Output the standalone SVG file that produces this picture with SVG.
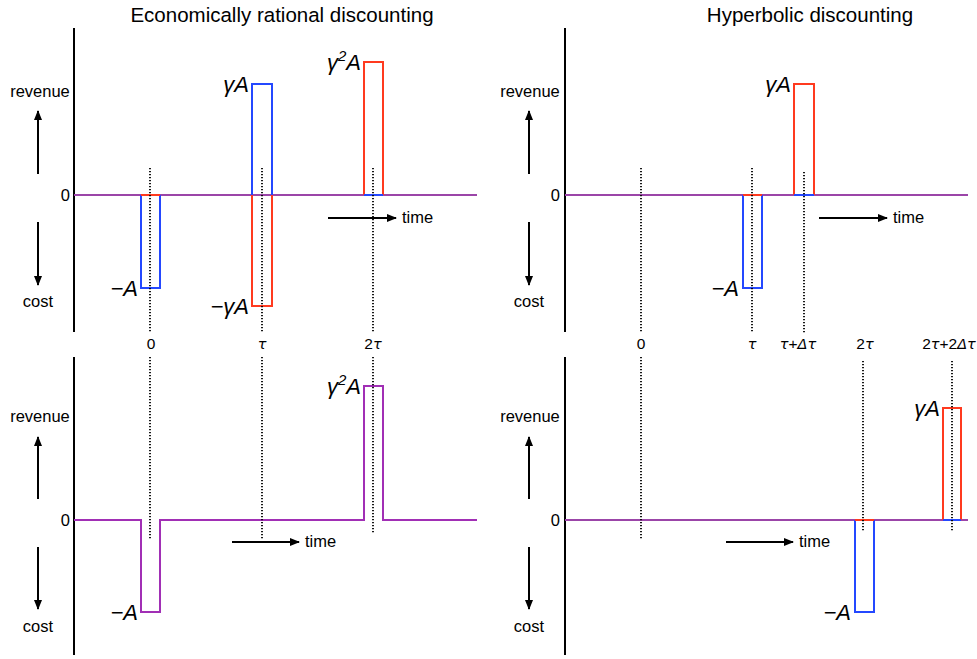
<svg xmlns="http://www.w3.org/2000/svg" width="977" height="659" viewBox="0 0 977 659">
  <style>
    text { font-family: "Liberation Sans", Arial, Helvetica, sans-serif; fill: #000; }
    .title { font-size: 20.5px; text-anchor: middle; }
    .lbl { font-size: 16.5px; }
    .mid { text-anchor: middle; }
    .end { text-anchor: end; }
    .tick { font-size: 15.5px; text-anchor: middle; }
    .math { font-size: 22px; font-style: italic; text-anchor: end; }
    .it { font-style: italic; font-family: "DejaVu Sans", "Liberation Sans", sans-serif; font-size: 14.5px; }
    .axis { stroke: #000; stroke-width: 2; fill: none; }
    .zero { stroke: #9b45a8; stroke-width: 2; fill: none; }
    .dot { stroke: #000; stroke-width: 1.8; stroke-dasharray: 1.2 1.8; fill: none; }
    .arr { stroke: #000; stroke-width: 2; fill: none; marker-end: url(#head); }
    .blue { stroke: #2448ff; stroke-width: 2; fill: none; }
    .red { stroke: #ff3a1f; stroke-width: 2; fill: none; }
    .purple { stroke: #a12fb5; stroke-width: 2; fill: none; }
  </style>
  <defs>
    <marker id="head" viewBox="0 0 10 8" refX="9" refY="4" markerWidth="10" markerHeight="8" markerUnits="userSpaceOnUse" orient="auto">
      <path d="M0,0 L10,4 L0,8 Z" fill="#000"/>
    </marker>
  </defs>

  <!-- panel titles -->
  <text class="title" x="282" y="22">Economically rational discounting</text>
  <text class="title" x="810" y="22">Hyperbolic discounting</text>

  <!-- top-left: economically rational, separate flows -->
  <g id="panel-rational-flows">
    <line class="axis" x1="74" y1="28" x2="74" y2="332"/>
    <line class="zero" x1="74" y1="195" x2="477" y2="195"/>
    <text class="lbl mid" x="40" y="97">revenue</text>
    <text class="lbl mid" x="38" y="307">cost</text>
    <text class="lbl end" x="70" y="201">0</text>
    <line class="arr" x1="38" y1="174" x2="38" y2="111"/>
    <line class="arr" x1="38" y1="222" x2="38" y2="285"/>
    <!-- flows -->
    <polyline class="blue" points="141,195 141,288 160,288 160,195"/>
    <line class="red" x1="141" y1="195" x2="160" y2="195"/>
    <polyline class="blue" points="252,195 252,84 272,84 272,195"/>
    <polyline class="red" points="252,195 252,306 272,306 272,195"/>
    <polyline class="red" points="364,195 364,62 383,62 383,195"/>
    <line class="blue" x1="364" y1="195" x2="383" y2="195"/>
    <!-- time markers -->
    <line class="dot" x1="150" y1="168" x2="150" y2="333"/>
    <line class="dot" x1="262" y1="168" x2="262" y2="333"/>
    <line class="dot" x1="373" y1="168" x2="373" y2="333"/>
    <text class="math" x="138" y="296">−A</text>
    <text class="math" x="249" y="92">γA</text>
    <text class="math" x="249" y="314">−γA</text>
    <text class="math" x="361" y="70">γ<tspan font-size="15" dy="-9">2</tspan><tspan dy="9">A</tspan></text>
    <line class="arr" x1="328" y1="218" x2="396" y2="218"/>
    <text class="lbl" x="402" y="223">time</text>
  </g>

  <!-- top-right: hyperbolic, separate flows -->
  <g id="panel-hyperbolic-flows">
    <line class="axis" x1="565" y1="28" x2="565" y2="332"/>
    <line class="zero" x1="565" y1="195" x2="968" y2="195"/>
    <text class="lbl mid" x="530" y="97">revenue</text>
    <text class="lbl mid" x="529" y="307">cost</text>
    <text class="lbl end" x="560" y="201">0</text>
    <line class="arr" x1="529" y1="174" x2="529" y2="111"/>
    <line class="arr" x1="529" y1="222" x2="529" y2="285"/>
    <polyline class="blue" points="743,195 743,288 762,288 762,195"/>
    <line class="red" x1="743" y1="195" x2="762" y2="195"/>
    <polyline class="red" points="794,195 794,84 814,84 814,195"/>
    <line class="blue" x1="794" y1="195" x2="814" y2="195"/>
    <line class="dot" x1="641" y1="168" x2="641" y2="333"/>
    <line class="dot" x1="752" y1="168" x2="752" y2="333"/>
    <line class="dot" x1="804" y1="172" x2="804" y2="333"/>
    <text class="math" x="739" y="296">−A</text>
    <text class="math" x="791" y="92">γA</text>
    <line class="arr" x1="819" y1="218" x2="887" y2="218"/>
    <text class="lbl" x="893" y="223">time</text>
  </g>

  <!-- time tick labels -->
  <g id="tick-labels">
    <text class="tick" x="151" y="349">0</text>
    <text class="tick" x="262" y="349"><tspan class="it">τ</tspan></text>
    <text class="tick" x="373" y="349">2<tspan class="it">τ</tspan></text>
    <text class="tick" x="641" y="349">0</text>
    <text class="tick" x="752" y="349"><tspan class="it">τ</tspan></text>
    <text class="tick" x="798" y="349"><tspan class="it">τ</tspan>+<tspan class="it">Δτ</tspan></text>
    <text class="tick" x="865" y="349">2<tspan class="it">τ</tspan></text>
    <text class="tick" x="949" y="349">2<tspan class="it">τ</tspan>+2<tspan class="it">Δτ</tspan></text>
  </g>

  <!-- bottom-left: economically rational, net flow -->
  <g id="panel-rational-net">
    <line class="axis" x1="74" y1="357" x2="74" y2="655"/>
    <text class="lbl mid" x="40" y="422">revenue</text>
    <text class="lbl mid" x="38" y="632">cost</text>
    <text class="lbl end" x="70" y="526">0</text>
    <line class="arr" x1="38" y1="499" x2="38" y2="437"/>
    <line class="arr" x1="38" y1="547" x2="38" y2="609"/>
    <polyline class="purple" points="74,520 141,520 141,612 160,612 160,520 364,520 364,386 383,386 383,520 477,520"/>
    <line class="dot" x1="150" y1="357" x2="150" y2="539"/>
    <line class="dot" x1="262" y1="357" x2="262" y2="539"/>
    <line class="dot" x1="373" y1="357" x2="373" y2="533"/>
    <text class="math" x="138" y="620">−A</text>
    <text class="math" x="361" y="394">γ<tspan font-size="15" dy="-9">2</tspan><tspan dy="9">A</tspan></text>
    <line class="arr" x1="232" y1="542" x2="299" y2="542"/>
    <text class="lbl" x="305" y="547">time</text>
  </g>

  <!-- bottom-right: hyperbolic, delayed choice -->
  <g id="panel-hyperbolic-delayed">
    <line class="axis" x1="565" y1="357" x2="565" y2="655"/>
    <line class="zero" x1="565" y1="520" x2="968" y2="520"/>
    <text class="lbl mid" x="530" y="422">revenue</text>
    <text class="lbl mid" x="529" y="632">cost</text>
    <text class="lbl end" x="560" y="526">0</text>
    <line class="arr" x1="529" y1="499" x2="529" y2="437"/>
    <line class="arr" x1="529" y1="547" x2="529" y2="609"/>
    <polyline class="blue" points="855,520 855,612 874,612 874,520"/>
    <line class="red" x1="855" y1="520" x2="874" y2="520"/>
    <polyline class="red" points="943,520 943,408 961,408 961,520"/>
    <line class="blue" x1="943" y1="520" x2="961" y2="520"/>
    <line class="dot" x1="641" y1="357" x2="641" y2="539"/>
    <line class="dot" x1="863" y1="361" x2="863" y2="532"/>
    <line class="dot" x1="952" y1="361" x2="952" y2="532"/>
    <text class="math" x="851" y="620">−A</text>
    <text class="math" x="940" y="416">γA</text>
    <line class="arr" x1="726" y1="542" x2="793" y2="542"/>
    <text class="lbl" x="799" y="547">time</text>
  </g>
</svg>
